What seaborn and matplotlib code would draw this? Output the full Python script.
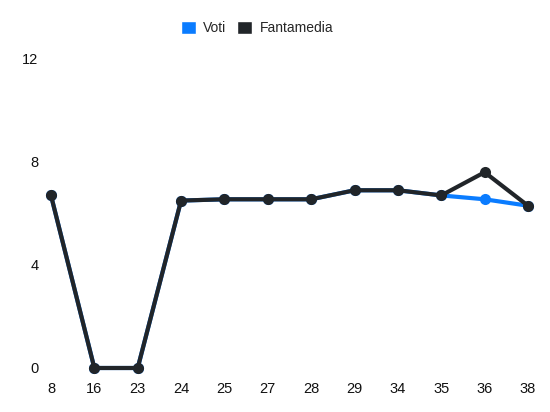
import pandas as pd
import seaborn as sns
import matplotlib.pyplot as plt
from matplotlib.patches import Patch

# Data
giornate = ['8', '16', '23', '24', '25', '27', '28', '29', '34', '35', '36', '38']
voti = [6.7, 0, 0, 6.5, 6.55, 6.55, 6.55, 6.9, 6.9, 6.7, 6.55, 6.3]
fantamedia = [6.7, 0, 0, 6.5, 6.55, 6.55, 6.55, 6.9, 6.9, 6.7, 7.6, 6.3]
series = ['Voti', 'Fantamedia']
colors = {'Voti': '#0a7cff', 'Fantamedia': '#212529'}

df = pd.DataFrame({
    'giornata': giornate * 2,
    'valore': voti + fantamedia,
    'serie': ['Voti'] * len(giornate) + ['Fantamedia'] * len(giornate),
})

sns.set_style('white')
plt.rcParams['font.family'] = ['Liberation Sans', 'DejaVu Sans']

fig = plt.figure(figsize=(5.5, 4.12), dpi=100)
ax = fig.add_axes([0.0927, 0.1068, 0.8673, 0.7502])

sns.lineplot(data=df, x='giornata', y='valore', hue='serie', hue_order=series,
             palette=colors, marker='o', markersize=8, markeredgewidth=0,
             linewidth=3, legend=False, ax=ax, clip_on=False, sort=False)

ax.set_xlim(0, len(giornate) - 1)
ax.set_ylim(0, 12)
ax.set_yticks([0, 4, 8, 12])
ax.set_xlabel('')
ax.set_ylabel('')
sns.despine(ax=ax, left=True, bottom=True)
ax.tick_params(axis='both', length=0, labelsize=10.5, colors='#111111')
ax.tick_params(axis='y', pad=9)
ax.tick_params(axis='x', pad=10)

handles = [Patch(facecolor=colors[s], edgecolor='white', label=s) for s in series]
fig.legend(handles=handles, loc='center', bbox_to_anchor=(0.467, 0.932), ncol=2,
           frameon=False, fontsize=10, handlelength=1.1, handleheight=1.1,
           handletextpad=0.5, columnspacing=0.8)

fig.savefig('out.png', dpi=100)
